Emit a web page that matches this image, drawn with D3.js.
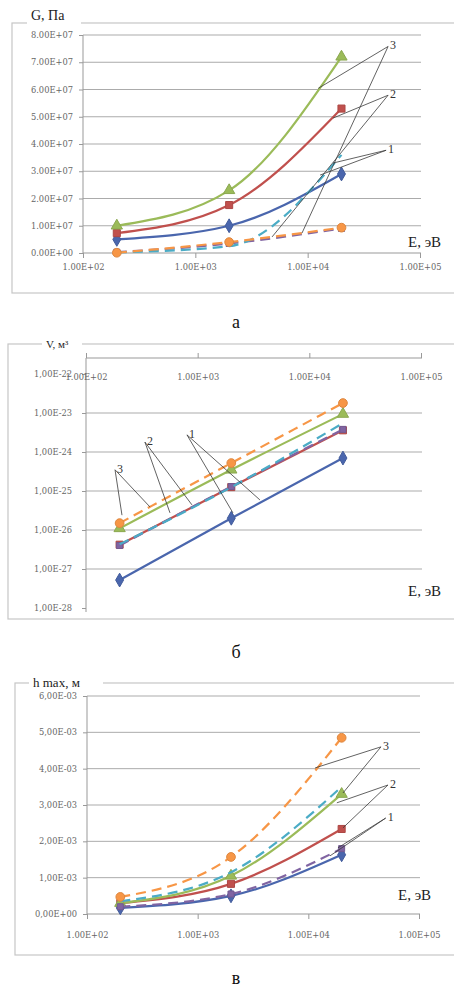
<!DOCTYPE html>
<html>
<head>
<meta charset="utf-8">
<script src="https://cdn.jsdelivr.net/npm/d3@7"></script>
<style>
  body { margin: 0; background: #fff; }
  svg { display: block; }
</style>
</head>
<body>
<svg id="chart" width="454" height="991"></svg>
<script>
// energies (x), eV
const energy = [200, 2000, 20000];
const xTicks = [1e2, 1e3, 1e4, 1e5];

// panel а : G, Pa
const gTicks = [0, 1e7, 2e7, 3e7, 4e7, 5e7, 6e7, 7e7, 8e7];
const gLine1 = [0.5e7, 1.0e7, 2.9e7];
const gLine2 = [0.73e7, 1.76e7, 5.3e7];
const gLine3 = [1.0e7, 2.3e7, 7.2e7];
const gDash1 = [0.03e7, 0.35e7, 0.9e7];
const gDash2 = [0.02e7, 0.25e7, 3.6e7];
const gDash3 = [0.01e7, 0.4e7, 0.93e7];

// panel б : V, m3
const vTicks = [1e-28, 1e-27, 1e-26, 1e-25, 1e-24, 1e-23, 1e-22];
const vLine1 = [5.2e-28, 2.0e-26, 7.0e-25];
const vLine2 = [4.2e-27, 1.26e-25, 3.6e-24];
const vLine3 = [1.1e-26, 3.5e-25, 9.4e-24];
const vDash1 = [4.0e-27, 1.3e-25, 3.8e-24];
const vDash2 = [4.3e-27, 1.25e-25, 5.5e-24];
const vDash3 = [1.5e-26, 5.2e-25, 1.8e-23];

// panel в : h max, m
const hTicks = [0, 1e-3, 2e-3, 3e-3, 4e-3, 5e-3, 6e-3];
const hLine1 = [0.17e-3, 0.5e-3, 1.63e-3];
const hLine2 = [0.3e-3, 0.83e-3, 2.34e-3];
const hLine3 = [0.3e-3, 1.05e-3, 3.3e-3];
const hDash1 = [0.2e-3, 0.55e-3, 1.8e-3];
const hDash2 = [0.35e-3, 1.15e-3, 3.5e-3];
const hDash3 = [0.47e-3, 1.57e-3, 4.85e-3];

// callout labels: text, start point and targets as [E, value]
const gNotes = [
  { text: "3", from: [52000, 7.58e7], to: [[12400, 6.04e7], [8900, 0.73e7]] },
  { text: "2", from: [52000, 5.79e7], to: [[16800, 4.95e7], [4820, 0.59e7]] },
  { text: "1", from: [49900, 3.77e7], to: [[16800, 3.3e7], [12900, 2.86e7]] }
];
const vNotes = [
  { text: "3", from: [182, 3.5e-25], to: [[210, 2.4e-26], [374, 3.9e-26]] },
  { text: "2", from: [337, 1.8e-24], to: [[565, 2.75e-26], [889, 4.4e-26]] },
  { text: "1", from: [802, 2.75e-24], to: [[2070, 2.75e-26], [3610, 5.9e-26]] }
];
const hNotes = [
  { text: "3", from: [45300, 4.6e-3], to: [[11500, 4.02e-3], [20550, 3.33e-3]] },
  { text: "2", from: [52400, 3.55e-3], to: [[18100, 3.06e-3], [20550, 2.37e-3]] },
  { text: "1", from: [50000, 2.64e-3], to: [[15700, 1.6e-3], [18500, 1.82e-3]] }
];

const styles = [
  { color: "#4a66ad", dash: null, marker: d3.symbolDiamond, size: 55 },
  { color: "#c0504d", dash: null, marker: d3.symbolSquare, size: 50 },
  { color: "#9bbb59", dash: null, marker: d3.symbolTriangle, size: 55 },
  { color: "#8064a2", dash: "10,6", marker: d3.symbolSquare, size: 36 },
  { color: "#4bacc6", dash: "10,6", marker: null, size: 0 },
  { color: "#f79646", dash: "10,6", marker: d3.symbolCircle, size: 60 }
];

const svg = d3.select("#chart");
const serif = "'Liberation Serif', 'Times New Roman', serif";
const tickFont = "'DejaVu Serif', serif";

function sci(v, sep) {
  if (v === 0) return "0" + sep + "00E+00";
  let e = Math.floor(Math.log10(Math.abs(v)) + 1e-9);
  let s = (v / Math.pow(10, e)).toFixed(2);
  if (s === "10.00") { e += 1; s = "1.00"; }
  return s.replace(".", sep) + "E" + (e < 0 ? "-" : "+") + String(Math.abs(e)).padStart(2, "0");
}

const panels = [
  {
    box: [12, 23, 470, 270], title: "G, Па", titleX: 31, titleY: 20, titleSize: 14, titleW: 46,
    left: 83, right: 420, top: 35, bottom: 253, log: false, domain: [0, 8e7],
    ticks: gTicks, grid: gTicks.slice(1), sep: ".", xAxisY: 253, xTop: false, xLabelDy: 17,
    data: [gLine1, gLine2, gLine3, gDash1, gDash2, gDash3], notes: gNotes,
    eLabel: [408, 247], letter: "а", letterY: 328
  },
  {
    box: [8, 344, 470, 275], title: "V, м³", titleX: 46, titleY: 348, titleSize: 11, titleW: 32,
    left: 86, right: 421, top: 374, bottom: 608, log: true, domain: [1e-28, 1e-22],
    ticks: vTicks, grid: vTicks.slice(1, 6), sep: ",", xAxisY: 358, xTop: true, xLabelDy: 22,
    data: [vLine1, vLine2, vLine3, vDash1, vDash2, vDash3], notes: vNotes,
    eLabel: [408, 596], letter: "б", letterY: 658
  },
  {
    box: [15, 683, 470, 272], title: "h max, м", titleX: 33, titleY: 687, titleSize: 13, titleW: 66,
    left: 87, right: 419, top: 696, bottom: 914, log: false, domain: [0, 6e-3],
    ticks: hTicks, grid: hTicks.slice(1), sep: ",", xAxisY: 914, xTop: false, xLabelDy: 24,
    data: [hLine1, hLine2, hLine3, hDash1, hDash2, hDash3], notes: hNotes,
    eLabel: [398, 900], letter: "в", letterY: 984
  }
];

panels.forEach(p => {
  const g = svg.append("g");
  const x = d3.scaleLog().domain([1e2, 1e5]).range([p.left, p.right]);
  const y = (p.log ? d3.scaleLog() : d3.scaleLinear()).domain(p.domain).range([p.bottom, p.top]);

  // chart frame, broken by the title
  g.append("rect").attr("x", p.box[0]).attr("y", p.box[1]).attr("width", p.box[2]).attr("height", p.box[3])
    .attr("fill", "none").attr("stroke", "#c6c6c6").attr("stroke-width", 1.2);
  g.append("rect").attr("x", p.titleX - 4).attr("y", p.box[1] - 3).attr("width", p.titleW + 8).attr("height", 6).attr("fill", "#fff");
  g.append("text").attr("x", p.titleX).attr("y", p.titleY).attr("font-family", serif)
    .attr("font-size", p.titleSize).attr("fill", "#222").text(p.title);

  // gridlines
  g.selectAll(".grid").data(p.grid).join("line")
    .attr("x1", p.left).attr("x2", p.right + 1)
    .attr("y1", d => y(d)).attr("y2", d => y(d))
    .attr("stroke", "#ababab").attr("stroke-width", 1);

  // y axis
  const yAxis = g.append("g").attr("transform", `translate(${p.left},0)`)
    .call(d3.axisLeft(y).tickValues(p.ticks).tickFormat(d => sci(d, p.sep)).tickSize(4).tickPadding(p.log ? 10 : 6));
  yAxis.select(".domain").remove();
  yAxis.selectAll(".tick line").attr("stroke", "#999");
  yAxis.selectAll(".tick text").attr("font-family", tickFont).attr("font-size", 8.3).attr("fill", "#666");
  g.append("line").attr("x1", p.left).attr("x2", p.left)
    .attr("y1", Math.min(p.top, p.xAxisY)).attr("y2", p.bottom + (p.log ? 4 : 0))
    .attr("stroke", "#999");

  // x axis
  const xAxis = g.append("g").attr("transform", `translate(0,${p.xAxisY})`)
    .call((p.xTop ? d3.axisTop(x) : d3.axisBottom(x)).tickValues(xTicks).tickFormat(d => sci(d, ".")).tickSize(5));
  xAxis.select(".domain").remove();
  xAxis.selectAll(".tick line").attr("stroke", "#999");
  xAxis.selectAll(".tick text").attr("font-family", tickFont).attr("font-size", 8.3).attr("fill", "#666")
    .attr("y", p.xLabelDy).attr("dy", 0);
  g.append("line").attr("x1", p.left).attr("x2", p.right + 1)
    .attr("y1", p.xAxisY).attr("y2", p.xAxisY).attr("stroke", "#999");

  // series (smoothed)
  const line = d3.line().x((d, i) => x(energy[i])).y(d => y(d)).curve(d3.curveMonotoneX);
  p.data.forEach((vals, si) => {
    const st = styles[si];
    g.append("path").datum(vals).attr("d", line).attr("fill", "none")
      .attr("stroke", st.color).attr("stroke-width", 2.2)
      .attr("stroke-dasharray", st.dash);
    if (st.marker) {
      g.selectAll(null).data(vals).join("path")
        .attr("transform", (d, i) => `translate(${x(energy[i])},${y(d)})`)
        .attr("d", d3.symbol(st.marker, st.size))
        .attr("fill", st.color).attr("stroke", d3.color(st.color).darker(0.3));
    }
  });

  // callouts
  p.notes.forEach(n => {
    const fx = x(n.from[0]), fy = y(n.from[1]);
    n.to.forEach(t => {
      g.append("line").attr("x1", fx).attr("y1", fy).attr("x2", x(t[0])).attr("y2", y(t[1]))
        .attr("stroke", "#3a3a3a").attr("stroke-width", 0.8);
    });
    g.append("text").attr("x", fx + 2).attr("y", fy + 3).attr("font-family", serif)
      .attr("font-size", 12).attr("fill", "#333").text(n.text);
  });

  g.append("text").attr("x", p.eLabel[0]).attr("y", p.eLabel[1]).attr("font-family", serif)
    .attr("font-size", 15).attr("fill", "#222").text("E, эВ");

  svg.append("text").attr("x", 236).attr("y", p.letterY).attr("text-anchor", "middle")
    .attr("font-family", serif).attr("font-size", 18).attr("fill", "#111").text(p.letter);
});
</script>
</body>
</html>
